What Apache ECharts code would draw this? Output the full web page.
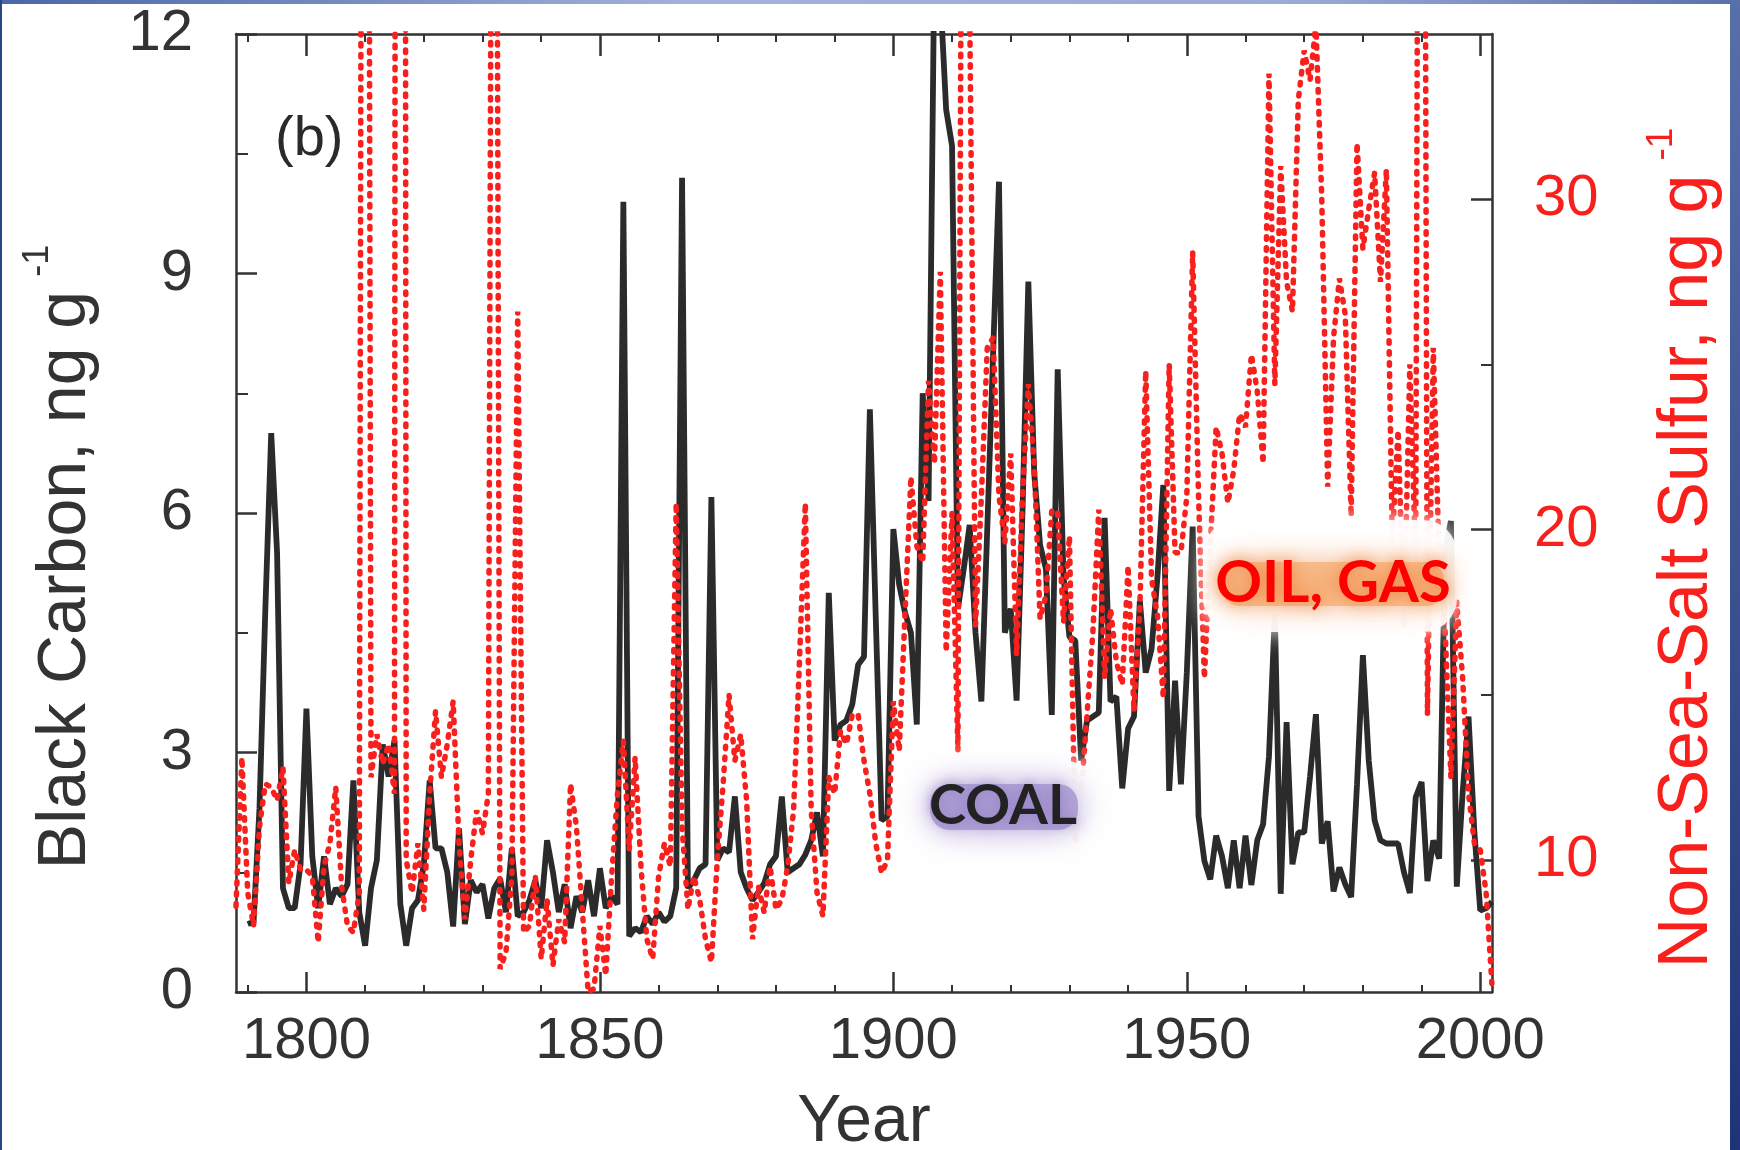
<!DOCTYPE html>
<html>
<head>
<meta charset="utf-8">
<script src="https://cdn.jsdelivr.net/npm/echarts@6/dist/echarts.min.js"></script>
<style>
html,body{margin:0;padding:0;background:#ffffff;}
#chart{width:1740px;height:1150px;}
</style>
</head>
<body>
<div id="chart"></div>
<script>
// ---- data ----
const YEAR_START = 1788;
// Black carbon, ng/g (left axis); first two years have no value
const blackCarbon = [
  null, null, 0.85, 0.88, 2.3, 4.8, 7.0, 5.5, 1.3, 1.05, 1.05, 1.6,
  3.55, 1.7, 1.05, 1.7, 1.1, 1.3, 1.2, 1.35, 2.65, 1.0,
  0.58, 1.3, 1.65, 3.1, 2.7, 3.15, 1.1, 0.58, 1.05, 1.15,
  1.6, 2.65, 1.8, 1.8, 1.5, 0.82, 2.05, 0.85, 1.4, 1.25,
  1.35, 0.92, 1.3, 1.42, 1.0, 1.8, 0.95, 1.0, 1.15, 1.4,
  1.05, 1.9, 1.5, 1.0, 1.35, 0.8, 1.2, 1.0, 1.4, 0.95,
  1.55, 1.05, 1.2, 1.1, 9.9, 0.7, 0.8, 0.75, 0.95, 0.85,
  1.0, 0.88, 0.95, 1.3, 10.2, 1.3, 1.4, 1.55, 1.6, 6.2,
  1.65, 1.8, 1.75, 2.45, 1.5, 1.3, 1.15, 1.25, 1.36, 1.6,
  1.7, 2.45, 1.5, 1.55, 1.6, 1.72, 1.9, 2.25, 1.7, 5.0,
  3.15, 3.35, 3.4, 3.6, 4.1, 4.2, 7.3, 4.7, 2.15, 2.2,
  5.8, 5.1, 4.75, 4.5, 3.35, 7.5, 6.15, 13.0, 12.5, 11.05,
  10.6, 4.8, 5.3, 5.85, 4.5, 3.64, 5.8, 8.0, 10.15, 4.5,
  4.8, 3.65, 6.0, 8.9, 6.5, 5.6, 5.3, 3.47, 7.8, 5.2,
  4.45, 4.4, 2.9, 3.4, 3.45, 3.5, 5.94, 3.64, 3.7, 2.55,
  3.3, 3.45, 4.9, 4.0, 4.3, 5.2, 6.35, 2.52, 3.9, 2.6,
  4.0, 5.83, 2.2, 1.64, 1.41, 1.96, 1.7, 1.3, 1.9, 1.3,
  1.96, 1.34, 1.9, 2.1, 2.95, 4.75, 1.23, 3.38, 1.6, 2.0,
  2.0, 2.7, 3.48, 1.86, 2.14, 1.26, 1.56, 1.35, 1.19, 2.6,
  4.22, 2.9, 2.15, 1.9, 1.86, 1.86, 1.86, 1.5, 1.24, 2.44,
  2.63, 1.39, 1.9, 1.67, 5.54, 5.9, 1.32, 2.5, 3.45, 2.0,
  1.02, 1.05, 1.13
];
// Non-sea-salt sulfur, ng/g (right axis); volcanic peaks run off the top
const sulfur = [
  8.6, 13.1, 9.0, 8.0, 11.0, 12.3, 12.2, 11.8, 12.8, 9.3, 10.3, 9.7,
  9.7, 9.5, 7.5, 9.8, 10.5, 12.2, 9.2, 8.0, 7.8, 9.0,
  100, 12.5, 13.8, 12.9, 13.5, 12.0, 240, 10.0, 9.0, 10.5,
  8.5, 12.0, 14.5, 12.5, 13.5, 14.8, 10.5, 8.2, 10.0, 11.5,
  10.8, 12.0, 70, 6.7, 7.2, 9.5, 26.6, 7.8, 8.0, 9.5,
  7.0, 8.8, 6.8, 8.2, 7.5, 12.3, 11.0, 8.5, 6.0, 6.1,
  8.0, 6.5, 9.5, 12.0, 13.6, 10.3, 13.1, 9.8, 7.6, 7.0,
  9.5, 10.5, 9.8, 20.8, 11.0, 8.5, 9.5, 8.8, 7.6, 6.9,
  10.0, 12.3, 15.0, 13.0, 13.8, 11.8, 7.6, 9.2, 8.4, 9.8,
  8.5, 8.8, 9.8, 11.5, 16.0, 20.8, 11.5, 9.0, 8.3, 12.5,
  12.0, 13.9, 13.5, 14.4, 14.4, 13.0, 12.0, 10.5, 9.6, 10.0,
  14.8, 13.3, 17.5, 21.6, 19.5, 19.0, 24.5, 22.0, 27.8, 16.3,
  20.5, 13.3, 57, 36, 17.1, 21.0, 25.5, 25.8, 21.0, 19.6,
  22.3, 16.2, 21.0, 24.4, 22.0, 17.3, 18.0, 20.6, 20.5, 17.2,
  19.8, 10.5, 12.0, 14.4, 16.9, 20.6, 15.5, 17.6, 16.0, 15.3,
  18.9, 14.5, 17.6, 24.8, 18.5, 17.4, 14.9, 25.0, 19.3, 19.3,
  21.0, 28.4, 21.0, 15.5, 19.5, 23.1, 22.3, 20.8, 21.8, 23.5,
  23.1, 25.3, 24.2, 22.0, 33.8, 24.4, 31.0, 27.5, 26.6, 33.0,
  34.5, 33.6, 35.3, 30.0, 21.3, 25.8, 27.6, 26.5, 20.4, 31.7,
  28.5, 29.7, 30.8, 27.5, 30.9, 19.6, 23.0, 17.1, 25.0, 18.9,
  80, 14.4, 25.5, 19.0, 17.0, 12.5, 17.8, 15.5, 12.0, 10.5,
  10.3, 9.0, 6.2
];
const xMajorTicks = [1800, 1850, 1900, 1950, 2000];
const xMinorTicks = [1790, 1810, 1820, 1830, 1840, 1860, 1870, 1880, 1890, 1910, 1920, 1930, 1940, 1960, 1970, 1980, 1990];
const sulfurTicks = [10, 20, 30];
const sulfurMinorTicks = [15, 25];

// ---- chart ----
const FONT = 'Liberation Sans, Arial, Helvetica, sans-serif';
const AX = '#333333';
const RED = '#f7201c';
const chart = echarts.init(document.getElementById('chart'), null, {renderer: 'canvas'});

const bcData = blackCarbon.map((v, i) => [YEAR_START + i, v]);
const sData = sulfur.map((v, i) => [YEAR_START + i, v]);

const xBase = {type: 'value', min: 1788, max: 2002, splitLine: {show: false}, axisLabel: {show: false}};

const option = {
  animation: false,
  backgroundColor: '#ffffff',
  grid: {left: 236, right: 248, top: 34, bottom: 158, containLabel: false, outerBoundsMode: 'none'},
  xAxis: [
    Object.assign({}, xBase, {
      position: 'bottom',
      axisLine: {show: true, onZero: false, lineStyle: {color: AX, width: 2.5}},
      axisTick: {show: true, inside: true, length: 20, customValues: xMajorTicks, lineStyle: {color: AX, width: 2.5}},
      axisLabel: {show: true, customValues: xMajorTicks, fontSize: 58, color: AX, margin: 21, fontFamily: FONT,
        formatter: function (v) { return String(v); }},
      name: 'Year', nameLocation: 'middle', nameGap: 98,
      nameTextStyle: {fontSize: 66, color: AX, fontFamily: FONT}
    }),
    Object.assign({}, xBase, {
      position: 'bottom',
      axisLine: {show: false, onZero: false},
      axisTick: {show: true, inside: true, length: 7, customValues: xMinorTicks, lineStyle: {color: AX, width: 2}}
    }),
    Object.assign({}, xBase, {
      position: 'top',
      axisLine: {show: true, onZero: false, lineStyle: {color: AX, width: 2.5}},
      axisTick: {show: true, inside: true, length: 22, customValues: xMajorTicks, lineStyle: {color: AX, width: 2.5}}
    }),
    Object.assign({}, xBase, {
      position: 'top',
      axisLine: {show: false, onZero: false},
      axisTick: {show: true, inside: true, length: 8, customValues: xMinorTicks, lineStyle: {color: AX, width: 2}}
    })
  ],
  yAxis: [
    {
      type: 'value', min: 0, max: 12, interval: 3, position: 'left',
      splitLine: {show: false},
      axisLine: {show: true, onZero: false, lineStyle: {color: AX, width: 2.5}},
      axisTick: {show: true, inside: true, length: 21, lineStyle: {color: AX, width: 2.5}},
      minorTick: {show: true, splitNumber: 2, length: 12, lineStyle: {color: AX, width: 2}},
      axisLabel: {fontSize: 58, color: AX, margin: 43, fontFamily: FONT},
      name: '{m|Black Carbon, ng g}{s|-1}', nameLocation: 'middle', nameGap: 136,
      nameTextStyle: {
        color: AX, fontFamily: FONT, padding: [0, 88, 0, 0],
        rich: {
          m: {fontSize: 68, lineHeight: 80, verticalAlign: 'bottom', color: AX, fontFamily: FONT},
          s: {fontSize: 36, lineHeight: 36, verticalAlign: 'top', color: AX, fontFamily: FONT, padding: [0, 0, 0, 14]}
        }
      }
    },
    {
      type: 'value', min: 6, max: 35, position: 'right',
      splitLine: {show: false},
      axisLine: {show: true, onZero: false, lineStyle: {color: AX, width: 2.5}},
      axisTick: {show: true, inside: true, length: 21, customValues: sulfurTicks, lineStyle: {color: AX, width: 2.5}},
      axisLabel: {customValues: sulfurTicks, fontSize: 58, color: RED, margin: 42, fontFamily: FONT},
      name: '{m|Non-Sea-Salt Sulfur, ng g}{s|-1}', nameLocation: 'middle', nameGap: 151,
      nameTextStyle: {
        color: RED, fontFamily: FONT, padding: [0, 70, 0, 0],
        rich: {
          m: {fontSize: 70, lineHeight: 80, verticalAlign: 'bottom', color: RED, fontFamily: FONT},
          s: {fontSize: 37, lineHeight: 36, verticalAlign: 'top', color: RED, fontFamily: FONT, padding: [0, 0, 0, 14]}
        }
      }
    },
    {
      type: 'value', min: 6, max: 35, position: 'right',
      splitLine: {show: false},
      axisLine: {show: false, onZero: false},
      axisTick: {show: true, inside: true, length: 11, customValues: sulfurMinorTicks, lineStyle: {color: AX, width: 2}},
      axisLabel: {show: false}
    }
  ],
  series: [
    {
      name: 'Black Carbon', type: 'line', xAxisIndex: 0, yAxisIndex: 0,
      data: bcData, symbol: 'none', connectNulls: false, clip: true, z: 3,
      lineStyle: {color: '#2b2b2b', width: 5.8}
    },
    {
      name: 'Non-Sea-Salt Sulfur', type: 'line', xAxisIndex: 0, yAxisIndex: 1,
      data: sData, symbol: 'none', clip: true, z: 4,
      lineStyle: {color: RED, width: 5.5, type: [2.5, 8.5], cap: 'round'}
    }
  ],
  graphic: [
    {type: 'rect', z: 100, silent: true, shape: {x: 0, y: 0, width: 1740, height: 4},
      style: {fill: new echarts.graphic.LinearGradient(0, 0, 1, 0, [
        {offset: 0, color: '#4a67a6'}, {offset: 0.4, color: '#a3b2da'},
        {offset: 0.75, color: '#9aaad6'}, {offset: 1, color: '#5a70aa'}])}},
    {type: 'rect', z: 100, silent: true, shape: {x: 0, y: 0, width: 2, height: 1150},
      style: {fill: '#2a4688'}},
    {type: 'rect', z: 100, silent: true, shape: {x: 1730, y: 0, width: 10, height: 1150},
      style: {fill: new echarts.graphic.LinearGradient(0, 0, 0, 1, [
        {offset: 0, color: '#5670aa'}, {offset: 1, color: '#1d3577'}])}},
    {type: 'text', z: 100, silent: true, left: 275, top: 112,
      style: {text: '(b)', font: '56px ' + FONT, fill: '#2a2a2a'}},
    // COAL label with purple glow
    {type: 'rect', z: 90, silent: true, shape: {x: 910, y: 760, width: 188, height: 86, r: 36},
      style: {fill: 'rgba(255,255,255,0.9)', shadowBlur: 24, shadowColor: '#ffffff'}},
    {type: 'rect', z: 91, silent: true, shape: {x: 930, y: 784, width: 148, height: 46, r: 20},
      style: {fill: 'rgba(160,144,204,0.75)', shadowBlur: 32, shadowColor: 'rgba(150,130,200,1)'}},
    {type: 'text', z: 92, silent: true, x: 1003, y: 806,
      style: {text: 'COAL', font: 'bold 56px Lato, Open Sans, sans-serif', fill: '#222222',
        align: 'center', verticalAlign: 'middle',
        textShadowColor: 'rgba(150,130,200,0.9)', textShadowBlur: 12}},
    // OIL, GAS label with orange glow
    {type: 'rect', z: 90, silent: true, shape: {x: 1203, y: 520, width: 254, height: 112, r: 34},
      style: {fill: 'rgba(255,255,255,0.9)', shadowBlur: 22, shadowColor: '#ffffff'}},
    {type: 'rect', z: 91, silent: true, shape: {x: 1222, y: 562, width: 222, height: 44, r: 18},
      style: {fill: 'rgba(246,170,110,0.65)', shadowBlur: 30, shadowColor: 'rgba(240,145,80,1)'}},
    {type: 'text', z: 92, silent: true, x: 1333, y: 583,
      style: {text: 'OIL, GAS', font: 'bold 58px Lato, Open Sans, sans-serif', fill: '#ff0000',
        align: 'center', verticalAlign: 'middle',
        textShadowColor: 'rgba(240,130,60,1)', textShadowBlur: 16}}
  ]
};
chart.setOption(option);
</script>
</body>
</html>
